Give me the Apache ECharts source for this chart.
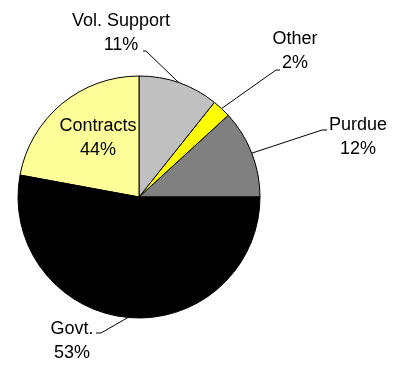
<!DOCTYPE html>
<html>
<head>
<meta charset="utf-8">
<style>html,body{margin:0;padding:0;background:#fff;}#c{width:402px;height:365px;}</style>
<script src="https://cdn.jsdelivr.net/npm/echarts@6/dist/echarts.min.js"></script>
</head>
<body>
<div id="c"></div>
<script>
var categories = ['Purdue', 'Other', 'Vol. Support', 'Contracts', 'Govt.'];
var values = [11.8, 2.5, 10.7, 22.1, 52.9];
var percentLabels = ['12%', '2%', '11%', '44%', '53%'];
var colors = ['#808080', '#ffff00', '#c0c0c0', '#ffff99', '#000000'];

// label placement (layout only)
var labelPos = [
  { x: 358, y: 137, line: true, turn: [322, 130], end: [327, 130] },
  { x: 295, y: 51, line: true, turn: [276, 70], end: [280, 70] },
  { x: 121, y: 33, line: true, turn: [146, 51], end: [143, 51] },
  { x: 98, y: 138, line: false },
  { x: 72, y: 341, line: true, turn: [101, 333], end: [96, 333] }
];

var cx = 139, cy = 197, R = 121;
var total = values.reduce(function (a, b) { return a + b; }, 0);
function midEdge(i) {
  var cum = 0;
  for (var k = 0; k < i; k++) cum += values[k];
  var ang = (cum + values[i] / 2) / total * 2 * Math.PI;
  return [cx + R * Math.cos(ang), cy - R * Math.sin(ang)];
}

var data = categories.map(function (name, i) {
  var item = { name: name, value: values[i], itemStyle: { color: colors[i] } };
  if (i === 3) {
    item.label = { position: 'inside' };
    item.labelLine = { show: false };
  }
  return item;
});

var chart = echarts.init(document.getElementById('c'), null, { renderer: 'canvas' });
chart.setOption({
  animation: false,
  backgroundColor: '#ffffff',
  series: [{
    type: 'pie',
    center: [cx, cy],
    radius: R,
    startAngle: 0,
    clockwise: false,
    avoidLabelOverlap: false,
    itemStyle: { borderColor: '#000', borderWidth: 1 },
    label: {
      show: true,
      position: 'outside',
      color: '#000',
      fontFamily: '"Liberation Sans", Arial, sans-serif',
      fontSize: 18,
      lineHeight: 24,
      align: 'center',
      formatter: function (p) { return p.name + '\n' + percentLabels[p.dataIndex]; }
    },
    labelLine: { show: true, length: 10, length2: 4, lineStyle: { color: '#000', width: 1 } },
    emphasis: { disabled: true },
    labelLayout: function (params) {
      var i = params.dataIndex;
      var L = labelPos[i];
      var out = { x: L.x, y: L.y, align: 'center', verticalAlign: 'middle', hideOverlap: false };
      if (L.line) {
        var s = (params.labelLinePoints && params.labelLinePoints[0]) || midEdge(i);
        out.labelLinePoints = [s, L.turn, L.end];
      }
      return out;
    },
    data: data
  }]
});
</script>
</body>
</html>
